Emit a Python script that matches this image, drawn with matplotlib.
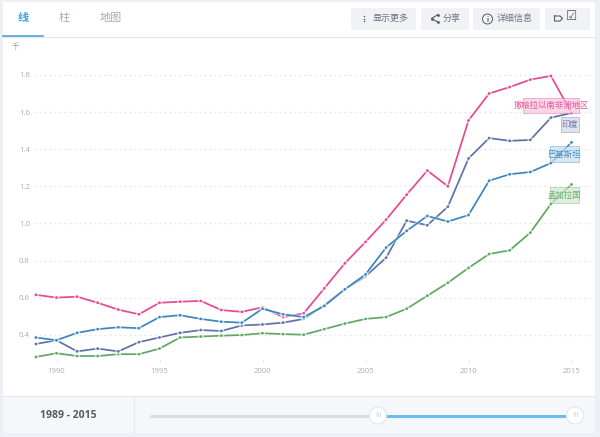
import matplotlib
matplotlib.use("Agg")
import matplotlib.pyplot as plt
from matplotlib.patches import Rectangle, Circle, FancyBboxPatch
import matplotlib.patheffects as pe

plt.rcParams['font.family'] = ['Noto Sans CJK SC', 'DejaVu Sans']

# values (thousands)
years = list(range(1989, 2016))
ssa = [0.615, 0.60, 0.605, 0.572, 0.535, 0.51, 0.572, 0.578, 0.582, 0.533, 0.523, 0.548, 0.495,
       0.515, 0.65, 0.785, 0.90, 1.02, 1.155, 1.285, 1.20, 1.555, 1.70, 1.735, 1.775, 1.795, 1.595]
india = [0.35, 0.37, 0.31, 0.325, 0.31, 0.36, 0.385, 0.41, 0.425, 0.42, 0.45, 0.455, 0.465,
         0.485, 0.56, 0.645, 0.715, 0.815, 1.015, 0.99, 1.09, 1.35, 1.46, 1.445, 1.45, 1.57, 1.595]
pakistan = [0.385, 0.37, 0.41, 0.43, 0.44, 0.435, 0.495, 0.505, 0.485, 0.47, 0.465, 0.54, 0.51,
            0.495, 0.555, 0.645, 0.725, 0.87, 0.96, 1.04, 1.01, 1.045, 1.23, 1.265, 1.277, 1.325, 1.437]
bangladesh = [0.28, 0.30, 0.285, 0.285, 0.295, 0.295, 0.325, 0.385, 0.39, 0.395, 0.398, 0.408, 0.403,
              0.40, 0.43, 0.46, 0.485, 0.495, 0.54, 0.61, 0.68, 0.76, 0.835, 0.855, 0.95, 1.105, 1.21]

y_ticks = [0.4, 0.6, 0.8, 1.0, 1.2, 1.4, 1.6, 1.8]
x_ticks = [1990, 1995, 2000, 2005, 2010, 2015]

series = [
    (bangladesh, "#5fa763"),
    (ssa, "#e8488f"),
    (india, "#5f71a6"),
    (pakistan, "#3a86bd"),
]

labels = [
    ("撒哈拉以南非洲地区", 523, 98, 56, 15, "#e8559a", "#f6c6dc", 551),
    ("印度", 561, 117, 18, 15, "#6b7aa8", "#d5d9e8", 570),
    ("巴基斯坦", 550, 146, 29, 16, "#4a92c6", "#c6dff0", 564.5),
    ("孟加拉国", 550, 187, 29, 16, "#6fb173", "#d0e7d1", 564.5),
]

GRAY = "#9ba0a8"
TEXT = "#6f7680"

fig = plt.figure(figsize=(6, 4.37), dpi=100, facecolor="#eef0f6")

# page furniture, drawn in pixel coordinates
ui = fig.add_axes([0, 0, 1, 1], zorder=0)
ui.set_xlim(0, 600)
ui.set_ylim(437, 0)
ui.axis("off")
ui.add_patch(Rectangle((3, 2), 592, 431, fc="white", ec="none"))
ui.add_patch(Rectangle((3, 396), 592, 37, fc="#f6f7fa", ec="none"))
ui.plot([3, 595], [36.5, 36.5], color="#e6eaf0", lw=0.8)
ui.plot([3, 595], [396, 396], color="#e6eaf0", lw=0.8)
ui.plot([133.5, 133.5], [396, 433], color="#e6eaf0", lw=0.8)
ui.plot([3, 43], [35.5, 35.5], color="#4aa3e0", lw=1.2)

ui.text(23.5, 17.5, "线", color="#3fa0e6", fontsize=8, ha="center", va="center", fontweight="bold")
ui.text(64, 17.5, "柱", color="#a3abb3", fontsize=8, ha="center", va="center")
ui.text(110.5, 17.5, "地图", color="#a3abb3", fontsize=8, ha="center", va="center")
ui.text(15, 47, "千", color=GRAY, fontsize=5.5, ha="center", va="center")

# header buttons
for bx, bw in [(351, 65), (421, 48), (473, 67), (545, 45)]:
    ui.add_patch(FancyBboxPatch((bx, 8), bw, 22, boxstyle="round,pad=0,rounding_size=1.5",
                                fc="#f1f2f6", ec="none"))
ui.plot([363.7, 363.7, 363.7], [16, 18.7, 21.4], ls="none", marker="o", ms=1.1, mew=0, color="#555c66")
ui.text(391, 18, "显示更多", color=TEXT, fontsize=6.5, ha="center", va="center")
ui.plot([438, 431.5, 438], [14.5, 18.5, 22], color="#555c66", lw=0.8,
        marker="o", ms=2, mew=0)
ui.text(452, 18, "分享", color=TEXT, fontsize=6.5, ha="center", va="center")
ui.add_patch(Circle((487.5, 19), 5, fc="none", ec="#555c66", lw=0.7))
ui.text(487.5, 19, "i", color="#555c66", fontsize=5, ha="center", va="center", fontweight="bold")
ui.text(514.5, 18, "详细信息", color=TEXT, fontsize=6.5, ha="center", va="center")
ui.plot([554.5, 560, 562.5, 560, 554.5, 554.5], [16, 16, 18.5, 21, 21, 16], color="#555c66", lw=0.8)
ui.text(572, 16, "☑", color="#555c66", fontsize=9, ha="center", va="center", family="DejaVu Sans")

# range slider
ui.text(68, 415.5, "1989 - 2015", color="#555b63", fontsize=7.5, ha="center", va="center",
        fontweight="bold", family=["Open Sans", "DejaVu Sans"])
ui.plot([151, 378], [415.5, 415.5], color="#d9dde5", lw=2.2, solid_capstyle="round")
ui.plot([378, 575], [415.5, 415.5], color="#6bbcf0", lw=2.2, solid_capstyle="butt")
for hx in [378, 575]:
    ui.add_patch(Circle((hx, 415.5), 8.5, fc="white", ec="#e3e6ec", lw=0.8, zorder=3))
    ui.text(hx, 415.5, "III", color="#c9ced6", fontsize=5.5, ha="center", va="center", zorder=4,
            family=["Open Sans", "DejaVu Sans"])

# chart area: 1990 at x=56.5, 2015 at x=571.5, 0.4 at y=334.7, 1.8 at y=75
left, right, top, bottom = 34, 591, 66, 360
ax = fig.add_axes([left / 600, 1 - bottom / 437, (right - left) / 600, (bottom - top) / 437], zorder=1)
ax.patch.set_alpha(0)
ax.set_xlim(1990 + (left - 56.5) / 20.6, 1990 + (right - 56.5) / 20.6)
ax.set_ylim(0.4 - (bottom - 334.7) / 185.5, 0.4 + (334.7 - top) / 185.5)
for s in ax.spines.values():
    s.set_visible(False)
ax.set_yticks(y_ticks)
ax.set_yticklabels([f"{v:.1f}" for v in y_ticks])
ax.set_xticks(x_ticks)
ax.tick_params(axis="y", length=0, pad=3, labelsize=5.6, labelcolor="#a9adb3")
ax.tick_params(axis="x", length=1.5, width=0.6, color="#d5d8dd", pad=4, labelsize=5.6, labelcolor="#a9adb3")
for t in ax.get_xticklabels() + ax.get_yticklabels():
    t.set_fontfamily(["Open Sans", "DejaVu Sans"])
ax.grid(axis="y", color="#e6e7ea", lw=0.9, ls=(0, (1.5, 2.5)))
ax.set_axisbelow(True)

for values, color in series:
    ax.plot(years, values, color=color, lw=1.25, marker="o", ms=1.9, mew=0,
            path_effects=[pe.withStroke(linewidth=2.4, foreground="white", alpha=0.6)],
            solid_joinstyle="round", clip_on=False)

# end-of-line labels on top of the lines
over = fig.add_axes([0, 0, 1, 1], zorder=2)
over.patch.set_alpha(0)
over.set_xlim(0, 600)
over.set_ylim(437, 0)
over.axis("off")
for name, bx, by, bw, bh, color, fill, tx in labels:
    over.add_patch(Rectangle((bx, by), bw, bh, fc=fill, ec=color, lw=0.4, alpha=0.7))
    over.text(tx, by + bh / 2, name, color=color, fontsize=6, ha="center", va="center")

fig.savefig("out.png", dpi=100, facecolor=fig.get_facecolor())
